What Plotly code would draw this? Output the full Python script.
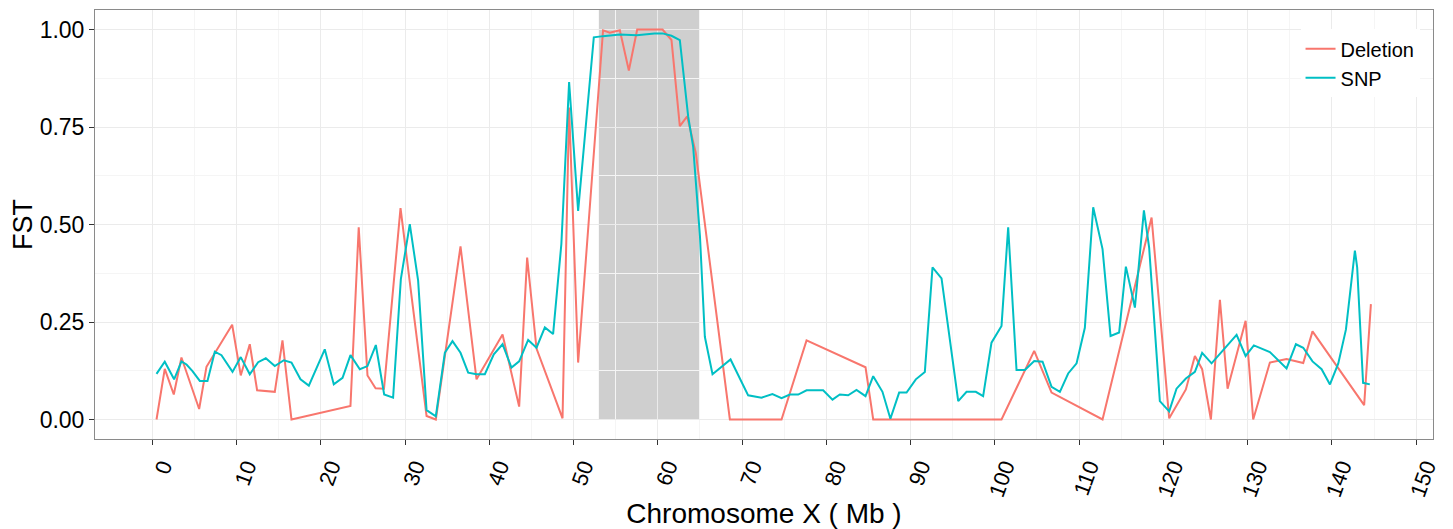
import plotly.graph_objects as go

# ---- data (Mb position, FST) ----
del_mb = [0.5, 1.48, 2.55, 3.46, 5.56, 6.43, 9.48, 10.5, 11.57, 12.44, 14.54, 15.45, 16.52,
          23.52, 24.5, 25.54, 26.5, 27.5, 29.46, 32.55, 33.65, 36.58, 38.48, 41.57, 43.54,
          44.49, 45.6, 48.69, 49.47, 50.54, 53.5, 54.3, 55.49, 56.56, 57.55, 60.56, 61.62,
          62.61, 63.48, 64.51, 68.55, 74.68, 77.65, 84.65, 85.56, 100.79, 104.67, 106.73,
          112.78, 118.6, 120.69, 122.67, 123.74, 124.6, 125.64, 126.71, 127.62, 129.76,
          130.66, 132.64, 134.62, 136.6, 137.7, 143.83, 144.63]
del_fst = [0.0, 0.130, 0.064, 0.159, 0.027, 0.135, 0.243, 0.113, 0.193, 0.075, 0.071, 0.203, 0.0,
           0.035, 0.493, 0.113, 0.080, 0.079, 0.542, 0.009, 0.0, 0.444, 0.103, 0.218, 0.033,
           0.415, 0.182, 0.003, 0.80, 0.146, 0.998, 0.992, 0.998, 0.895, 1.0, 1.0, 0.973,
           0.752, 0.777, 0.683, 0.0, 0.0, 0.203, 0.134, 0.0, 0.0, 0.176, 0.069,
           0.0, 0.518, 0.003, 0.077, 0.163, 0.129, 0.0, 0.307, 0.079, 0.253,
           0.0, 0.146, 0.155, 0.145, 0.226, 0.037, 0.296]

snp_mb = [0.5, 1.48, 2.59, 3.46, 4.06, 4.77, 5.64, 6.55, 7.42, 8.21, 9.52, 10.5, 11.57, 12.56,
          13.47, 14.54, 15.61, 16.52, 17.59, 18.58, 20.47, 21.54, 22.58, 23.52, 24.63, 25.54,
          26.53, 27.52, 28.58, 29.5, 30.56, 31.55, 32.55, 33.65, 34.72, 35.63, 36.58, 37.49,
          38.48, 39.47, 40.53, 41.57, 42.63, 43.54, 44.61, 45.6, 46.59, 47.57, 48.55, 49.1,
          49.47, 50.54, 52.4, 53.5, 55.49, 57.5, 59.6, 60.56, 61.62, 62.61, 63.6, 64.19, 65.0,
          65.58, 66.49, 68.63, 70.72, 72.3, 73.6, 74.68, 75.67, 76.66, 77.65, 79.62, 80.73,
          81.6, 82.59, 83.58, 84.65, 85.56, 86.66, 87.6, 88.64, 89.52, 90.62, 91.69, 92.6,
          93.67, 95.65, 96.64, 97.74, 98.61, 99.6, 100.79, 101.58, 102.57, 103.56, 104.67,
          105.66, 106.73, 107.72, 108.7, 109.7, 110.68, 111.67, 112.78, 113.73, 114.75,
          115.55, 116.62, 117.69, 118.31, 119.58, 120.69, 121.56, 122.67, 123.74, 124.6,
          125.72, 128.69, 129.76, 130.74, 131.65, 132.64, 134.62, 135.73, 136.6, 137.7,
          138.78, 139.77, 140.75, 141.67, 142.73, 143.0, 143.7, 144.5]
snp_fst = [0.117, 0.148, 0.103, 0.149, 0.141, 0.124, 0.099, 0.099, 0.174, 0.165, 0.122, 0.160,
           0.116, 0.147, 0.157, 0.137, 0.152, 0.146, 0.103, 0.087, 0.180, 0.090, 0.107, 0.165,
           0.129, 0.137, 0.191, 0.064, 0.056, 0.36, 0.501, 0.356, 0.024, 0.008, 0.171, 0.201,
           0.171, 0.120, 0.116, 0.116, 0.167, 0.193, 0.133, 0.149, 0.204, 0.184, 0.236, 0.219,
           0.45, 0.70, 0.865, 0.535, 0.980, 0.983, 0.987, 0.985, 0.990, 0.990, 0.984, 0.973,
           0.777, 0.700, 0.47, 0.212, 0.116, 0.154, 0.062, 0.056, 0.065, 0.055, 0.064, 0.064,
           0.075, 0.075, 0.051, 0.064, 0.062, 0.076, 0.060, 0.111, 0.071, 0.002, 0.069, 0.069,
           0.103, 0.122, 0.390, 0.362, 0.047, 0.071, 0.071, 0.060, 0.197, 0.240, 0.493, 0.127,
           0.127, 0.150, 0.148, 0.084, 0.071, 0.118, 0.144, 0.235, 0.544, 0.437, 0.214, 0.223,
           0.392, 0.287, 0.536, 0.441, 0.047, 0.021, 0.079, 0.105, 0.122, 0.171, 0.144, 0.217,
           0.163, 0.190, 0.181, 0.173, 0.131, 0.193, 0.184, 0.149, 0.129, 0.090, 0.143, 0.231,
           0.433, 0.390, 0.094, 0.090]

x_ticks = list(range(0, 151, 10))
y_ticks = [0.0, 0.25, 0.5, 0.75, 1.0]
y_labels = ["0.00", "0.25", "0.50", "0.75", "1.00"]
region = (53, 65)

FONT = "Liberation Sans, Arial, sans-serif"

fig = go.Figure()
fig.add_trace(go.Scatter(x=del_mb, y=del_fst, mode="lines", name="Deletion",
                         line=dict(color="#F8766D", width=2)))
fig.add_trace(go.Scatter(x=snp_mb, y=snp_fst, mode="lines", name="SNP",
                         line=dict(color="#00BFC4", width=2)))

fig.add_shape(type="rect", xref="x", yref="y", x0=region[0], x1=region[1], y0=0, y1=1.06,
              fillcolor="rgba(140,140,140,0.42)", line=dict(width=0), layer="below")

fig.update_layout(
    width=1453, height=529,
    margin=dict(l=87, r=28, t=2, b=98),
    paper_bgcolor="white", plot_bgcolor="white",
    font=dict(family=FONT, color="black"),
    showlegend=True,
    legend=dict(x=0.901, y=0.955, xanchor="left", yanchor="top",
                bgcolor="white", borderwidth=0, font=dict(size=20, family=FONT),
                itemwidth=30, tracegroupgap=0),
    xaxis=dict(
        range=[-6.8, 152], tickmode="array", tickvals=x_ticks,
        ticktext=[str(t) for t in x_ticks], tickangle=-70, ticklabelshift=10,
        tickfont=dict(size=22, family=FONT, color="black"),
        ticks="outside", ticklen=5, tickcolor="#333333",
        showgrid=True, gridcolor="#EBEBEB", gridwidth=1,
        minor=dict(tickmode="array", tickvals=[t + 5 for t in x_ticks[:-1]],
                   showgrid=True, gridcolor="#F5F5F5", gridwidth=1, ticks=""),
        zeroline=False, showline=True, mirror=True, linecolor="#8a8a8a", linewidth=1,
        title=dict(text="Chromosome X ( Mb )", font=dict(size=28, family=FONT), standoff=4),
    ),
    yaxis=dict(
        range=[-0.05, 1.05], tickmode="array", tickvals=y_ticks, ticktext=y_labels,
        tickfont=dict(size=23, family=FONT, color="black"),
        ticks="outside", ticklen=5, tickcolor="#333333",
        showgrid=True, gridcolor="#EBEBEB", gridwidth=1,
        minor=dict(tickmode="array", tickvals=[0.125, 0.375, 0.625, 0.875],
                   showgrid=True, gridcolor="#F5F5F5", gridwidth=1, ticks=""),
        zeroline=False, showline=True, mirror=True, linecolor="#8a8a8a", linewidth=1,
        title=dict(text="FST", font=dict(size=27, family=FONT), standoff=2),
    ),
)

fig.write_html("out.html")
